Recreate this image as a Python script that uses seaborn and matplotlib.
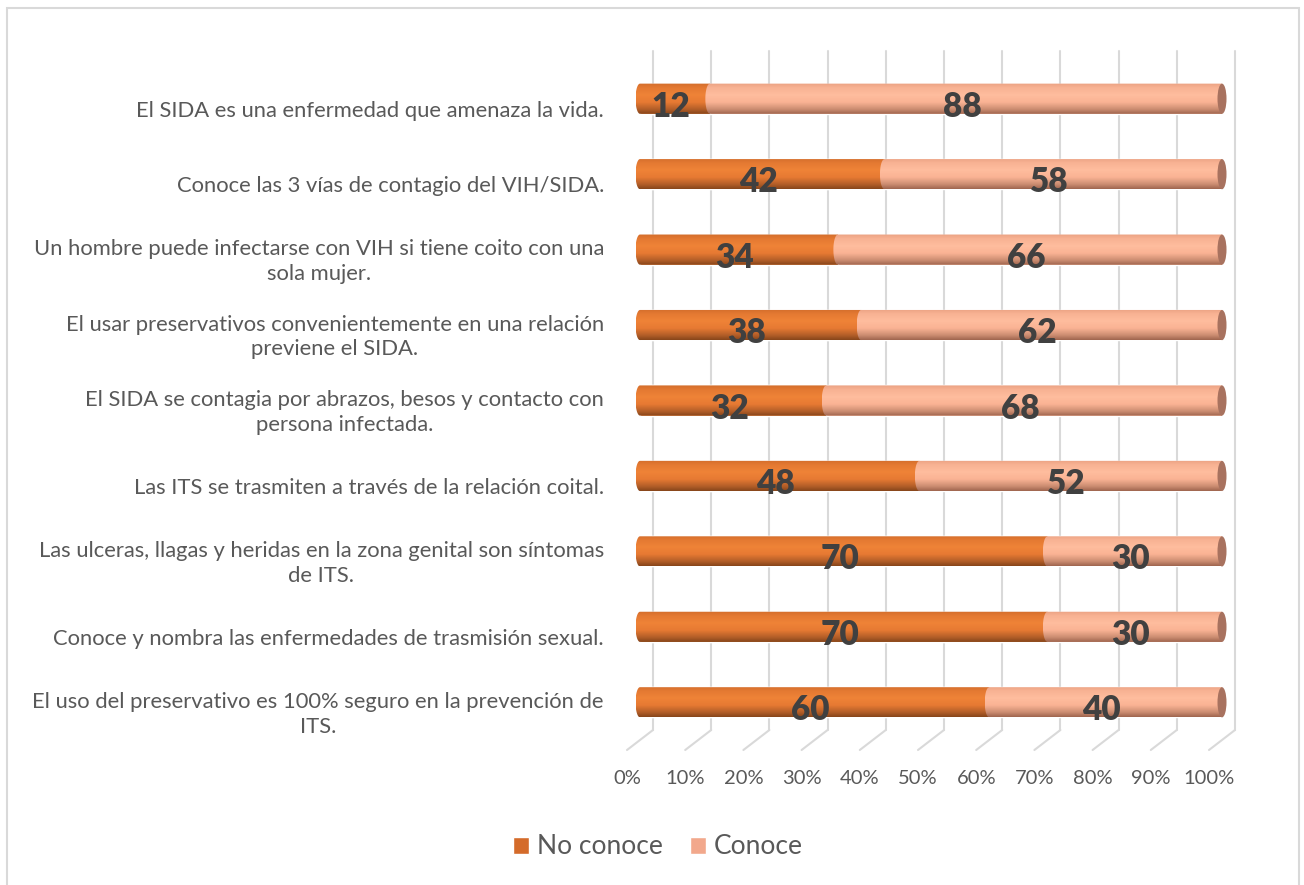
import numpy as np
import pandas as pd
import matplotlib
matplotlib.use("Agg")
import matplotlib.pyplot as plt
import seaborn as sns
from matplotlib.path import Path
from matplotlib.patches import PathPatch, Ellipse, Patch, Rectangle, ConnectionPatch
from matplotlib.transforms import offset_copy, blended_transform_factory
from matplotlib.colors import LinearSegmentedColormap

# ---- data -------------------------------------------------------------
categories = [
    "El SIDA es una enfermedad que amenaza la vida.",
    "Conoce las 3 vías de contagio del VIH/SIDA.",
    "Un hombre puede infectarse con VIH si tiene coito con una\nsola mujer.",
    "El usar preservativos convenientemente en una relación\npreviene el SIDA.",
    "El SIDA se contagia por abrazos, besos y contacto con\npersona infectada.",
    "Las ITS se trasmiten a través de la relación coital.",
    "Las ulceras, llagas y heridas en la zona genital son síntomas\nde ITS.",
    "Conoce y nombra las enfermedades de trasmisión sexual.",
    "El uso del preservativo es 100% seguro en la prevención de\nITS.",
]
no_conoce = [12, 42, 34, 38, 32, 48, 70, 70, 60]
conoce = [88, 58, 66, 62, 68, 52, 30, 30, 40]
series_names = ["No conoce", "Conoce"]
x_ticks = [0, 10, 20, 30, 40, 50, 60, 70, 80, 90, 100]

# ---- style ------------------------------------------------------------
sns.set_theme(style="white")
plt.rcParams["font.family"] = ["Lato", "DejaVu Sans"]

TEXT = "#595959"
LABEL = "#404040"
GRID = "#D9D9D9"
ORANGE = "#ED7D31"
PINK = "#FFB999"
CAP = "#A8725F"
LEG_ORANGE = "#D46B2A"
LEG_PINK = "#F2A88C"

orange_shade = LinearSegmentedColormap.from_list(
    "orange_cyl",
    [(0.0, "#D26D2B"), (0.15, "#E47932"), (0.38, "#EF8337"),
     (0.62, "#E77A33"), (0.85, "#B25E28"), (1.0, "#86451A")])
pink_shade = LinearSegmentedColormap.from_list(
    "pink_cyl",
    [(0.0, "#EBA283"), (0.15, "#F8B293"), (0.38, "#FFBD9E"),
     (0.62, "#FAB394"), (0.85, "#CB8C71"), (1.0, "#9E654E")])

W, H = 1304, 885
fig = plt.figure(figsize=(W / 100, H / 100), dpi=100)
ax = fig.add_axes([640 / W, 1 - 740 / H, 582 / W, 679 / H])

df = pd.DataFrame({
    "pregunta": categories,
    "no_conoce": no_conoce,
    "total": np.add(no_conoce, conoce),
})

# stacked horizontal bars: full length first, "No conoce" on top
sns.barplot(data=df, x="total", y="pregunta", orient="h", color=PINK,
            saturation=1, width=0.4, ax=ax, zorder=2)
sns.barplot(data=df, x="no_conoce", y="pregunta", orient="h", color=ORANGE,
            saturation=1, width=0.4, ax=ax, zorder=3)

ax.set_xlim(0, 100)
ax.set_ylim(len(categories) - 0.5, -0.5)
ax.set_xticks([])
ax.set_yticks([])
ax.set_xlabel("")
ax.set_ylabel("")
for s in ax.spines.values():
    s.set_visible(False)

# half-width of the cylinder end ellipse in data units (~4.5 px)
ax_px_w = ax.get_position().width * W
ell_a = 4.5 / (ax_px_w / 100)
grad = np.linspace(0, 1, 128).reshape(-1, 1)


def cylinder(x0, x1, yc, h, cmap, z):
    """Cylinder segment with a rounded left end, shaded top to bottom."""
    t = np.linspace(0, np.pi, 40)
    verts = np.vstack([[[x0, yc - h], [x1, yc - h], [x1, yc + h]],
                       np.column_stack([x0 - ell_a * np.sin(t), yc + h * np.cos(t)]),
                       [[x0, yc - h]]])
    clip = PathPatch(Path(verts, closed=True), transform=ax.transData,
                     facecolor="none", edgecolor="none", clip_on=False)
    ax.add_patch(clip)
    im = ax.imshow(grad, cmap=cmap, aspect="auto", origin="upper",
                   extent=(x0 - ell_a, x1, yc + h, yc - h),
                   interpolation="bilinear", zorder=z)
    # let the rounded end reach past the axes edge, still cut to the shape
    im.set_clip_box(fig.bbox)
    im.set_clip_path(clip)


orange_bars = list(ax.containers[1])
pink_bars = list(ax.containers[0])
for ob, pb in zip(orange_bars, pink_bars):
    yc = ob.get_y() + ob.get_height() / 2
    h = ob.get_height() / 2
    x_split = ob.get_x() + ob.get_width()
    x_end = pb.get_x() + pb.get_width()
    cylinder(ob.get_x(), x_split, yc, h, orange_shade, 4)
    cylinder(x_split, x_end, yc, h, pink_shade, 5)
    ax.add_patch(Ellipse((x_end, yc), 2 * ell_a, 2 * h, facecolor=CAP,
                         edgecolor="none", zorder=6, clip_on=False))

ax.set_xlim(0, 100)
ax.set_ylim(len(categories) - 0.5, -0.5)

# 3-D style grid: back wall verticals plus floor diagonals
trans_back = offset_copy(ax.transData, fig, x=13, y=10, units="dots")
trans_front = offset_copy(ax.transData, fig, x=-13, y=-10, units="dots")
y_top, y_bot = -0.5, len(categories) - 0.5
for v in x_ticks:
    ax.plot([v, v], [y_top, y_bot], transform=trans_back, color=GRID,
            lw=1.5, zorder=0.5, clip_on=False)
    con = ConnectionPatch(xyA=(v, y_bot), coordsA=trans_back,
                          xyB=(v, y_bot), coordsB=trans_front,
                          color=GRID, lw=1.5, zorder=0.5)
    ax.add_artist(con)

# x tick labels in the front plane
trans_tick = offset_copy(ax.transData, fig, x=-13, y=-30, units="dots")
for v in x_ticks:
    ax.text(v, y_bot, f"{v}%", transform=trans_tick, ha="center", va="top",
            fontsize=14.5, color=TEXT, clip_on=False)

# category labels
trans_cat = offset_copy(blended_transform_factory(ax.transAxes, ax.transData),
                        fig, x=-36, y=-12, units="dots")
for i, cat in enumerate(categories):
    ax.text(0, i, cat, transform=trans_cat, ha="right", va="center",
            multialignment="center", fontsize=15.8, color=TEXT,
            linespacing=1.3, clip_on=False)

# value labels centred on each segment
trans_val = offset_copy(ax.transData, fig, x=-4, y=-8, units="dots")
for i, (a, b) in enumerate(zip(no_conoce, conoce)):
    ax.text(a / 2, i, f"{a}", transform=trans_val, ha="center", va="center",
            fontsize=24, fontweight="heavy", color=LABEL, zorder=10)
    ax.text(a + b / 2, i, f"{b}", transform=trans_val, ha="center", va="center",
            fontsize=24, fontweight="heavy", color=LABEL, zorder=10)

# legend
handles = [Patch(facecolor=LEG_ORANGE), Patch(facecolor=LEG_PINK)]
fig.legend(handles, series_names, loc="center",
           bbox_to_anchor=(658 / W, 1 - 847 / H), ncol=2, frameon=False,
           fontsize=19, handlelength=0.62, handleheight=0.62,
           handletextpad=0.3, columnspacing=1.0, labelcolor=TEXT)

# chart frame
fig.add_artist(Rectangle((7 / W, -0.02), (1299 - 7) / W, (H - 8) / H + 0.02,
                         transform=fig.transFigure, fill=False,
                         edgecolor=GRID, lw=1.5))

fig.savefig("out.png", dpi=100, facecolor="white")
